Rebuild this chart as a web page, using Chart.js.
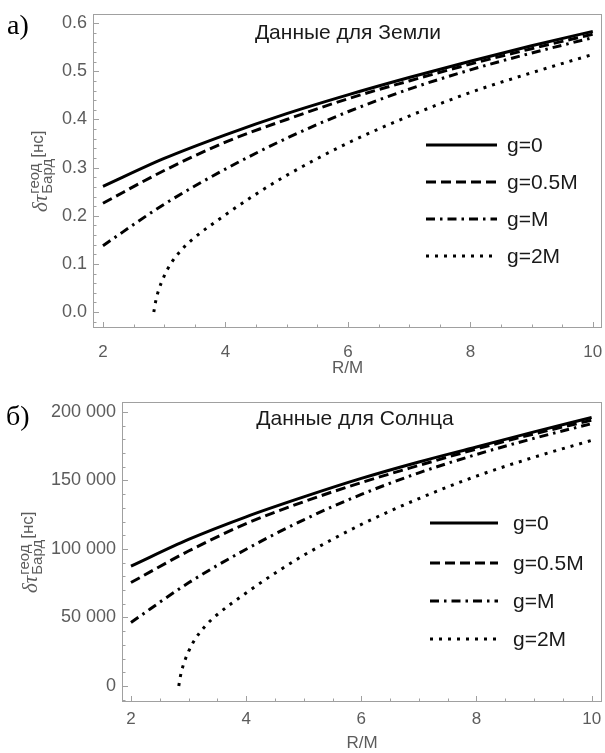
<!DOCTYPE html>
<html>
<head>
<meta charset="utf-8">
<script src="https://cdn.jsdelivr.net/npm/chart.js@4"></script>
<style>
  html, body { margin: 0; padding: 0; background: #fff; }
  #wrap { position: relative; width: 605px; height: 753px; }
  .panel { position: absolute; left: 0; width: 605px; }
</style>
</head>
<body>
<div id="wrap">
  <div class="panel" style="top:0;height:380px"><canvas id="earthChart"></canvas></div>
  <div class="panel" style="top:380px;height:373px"><canvas id="sunChart"></canvas></div>
</div>
<script>
const rValues = [2, 3, 4, 5, 6, 7, 8, 9, 10];
const rValues2M = [2.83, 2.86, 2.9, 3.0, 3.12, 3.28, 3.47, 4, 4.5, 5, 6, 7, 8, 9, 10];

// Earth, ns
const earthG0 = [0.261, 0.319, 0.368, 0.412, 0.451, 0.487, 0.521, 0.553, 0.583];
const earthG05 = [0.226, 0.294, 0.353, 0.400, 0.443, 0.480, 0.515, 0.547, 0.577];
const earthG1 = [0.138, 0.224, 0.297, 0.361, 0.416, 0.463, 0.503, 0.538, 0.570];
const earthG2 = [0, 0.022, 0.042, 0.075, 0.103, 0.129, 0.152, 0.202, 0.245, 0.284, 0.351, 0.407, 0.456, 0.497, 0.535];

// Sun, ns
const sunG0 = [87500, 107000, 123500, 138000, 151500, 163500, 174500, 185500, 196000];
const sunG05 = [75500, 98500, 118500, 134500, 148500, 161000, 173000, 184000, 194000];
const sunG1 = [46400, 75300, 99800, 121300, 139800, 155600, 169000, 180800, 191500];
const sunG2 = [0, 7400, 14100, 25200, 34600, 43300, 51100, 67900, 82300, 95400, 117900, 136800, 153200, 167000, 179300];

const seriesLabels = ["g=0", "g=0.5M", "g=M", "g=2M"];
const xTicks = [2, 4, 6, 8, 10];
const earthYTicks = [0, 0.1, 0.2, 0.3, 0.4, 0.5, 0.6];
const sunYTicks = [0, 50000, 100000, 150000, 200000];

// line styles: solid, dashed, dash-dot, dotted
const dashes = [[], [10, 5], [9, 5, 2.5, 5], [3, 6]];

const grey = "#5c5c5c";

function pts(xs, ys) {
  return xs.map((x, i) => ({ x: x, y: ys[i] }));
}

function fmtSun(v) {
  return String(v).replace(/\B(?=(\d{3})+(?!\d))/g, "\u00a0");
}

// frame, inward ticks, panel letter, inner title, legend and y title
const decor = {
  id: "decor",
  afterDraw(chart, args, o) {
    const ctx = chart.ctx;
    const a = chart.chartArea;
    const x = chart.scales.x;
    const y = chart.scales.y;
    ctx.save();

    ctx.strokeStyle = "#a0a0a0";
    ctx.lineWidth = 1;
    ctx.strokeRect(a.left + 0.5, a.top + 0.5, a.right - a.left - 1, a.bottom - a.top - 1);

    ctx.beginPath();
    const ys = o.yStep / 5;
    for (let k = Math.ceil(y.min / ys); k * ys <= y.max; k++) {
      const py = Math.round(y.getPixelForValue(k * ys)) + 0.5;
      const len = k % 5 === 0 ? 6 : 3.5;
      ctx.moveTo(a.left, py);
      ctx.lineTo(a.left + len, py);
    }
    const xs = 0.5;
    for (let k = Math.ceil(x.min / xs); k * xs <= x.max; k++) {
      const px = Math.round(x.getPixelForValue(k * xs)) + 0.5;
      const len = k % 4 === 0 ? 6 : 3.5;
      ctx.moveTo(px, a.bottom);
      ctx.lineTo(px, a.bottom - len);
    }
    ctx.stroke();

    // panel letter
    ctx.fillStyle = "#000";
    ctx.font = '28px "Liberation Serif"';
    ctx.textAlign = "left";
    ctx.textBaseline = "alphabetic";
    ctx.fillText(o.letter, o.letterX, o.letterY);

    // inner title
    ctx.fillStyle = "#1a1a1a";
    ctx.font = '21px "Liberation Sans"';
    ctx.textAlign = "center";
    ctx.textBaseline = "middle";
    ctx.fillText(o.title, o.titleX, o.titleY);

    // legend
    ctx.textAlign = "left";
    ctx.font = '21px "Liberation Sans"';
    chart.data.datasets.forEach((ds, i) => {
      const ry = o.legendRows[i];
      ctx.save();
      ctx.strokeStyle = "#000";
      ctx.lineWidth = ds.borderWidth;
      ctx.setLineDash(ds.borderDash);
      ctx.beginPath();
      ctx.moveTo(o.legendX1, ry);
      ctx.lineTo(o.legendX2, ry);
      ctx.stroke();
      ctx.restore();
      ctx.fillText(ds.label, o.legendTextX, ry + 1);
    });

    // y title, rotated
    ctx.translate(o.yTitleX, o.yTitleY);
    ctx.rotate(-Math.PI / 2);
    ctx.fillStyle = grey;
    ctx.textBaseline = "alphabetic";
    ctx.font = 'italic 21px "Liberation Serif"';
    ctx.fillText("δτ", 0, 0);
    const w = ctx.measureText("δτ").width;
    ctx.font = '15px "Liberation Sans"';
    ctx.fillText("геод", w + 1, -8);
    const w1 = ctx.measureText("геод").width;
    ctx.fillText("Бард", w + 1, 5);
    const w2 = ctx.measureText("Бард").width;
    ctx.font = '17px "Liberation Sans"';
    ctx.fillText("[нс]", w + 2 + Math.max(w1, w2), -4);

    ctx.restore();
  }
};

function makePanel(id, p) {
  const ctx = document.getElementById(id).getContext("2d");
  return new Chart(ctx, {
    type: "line",
    data: {
      datasets: p.series.map((s, i) => ({
        label: seriesLabels[i],
        data: pts(s.xs, s.ys),
        borderColor: "#000",
        borderWidth: 3,
        borderDash: dashes[i],
        borderCapStyle: "butt",
        pointRadius: 0,
        fill: false,
        cubicInterpolationMode: "monotone"
      }))
    },
    options: {
      animation: false,
      responsive: true,
      maintainAspectRatio: false,
      layout: { padding: { top: p.padTop, right: 3, left: 0, bottom: 0 } },
      scales: {
        x: {
          type: "linear",
          min: p.xMin,
          max: p.xMax,
          afterBuildTicks: (s) => { s.ticks = xTicks.map((v) => ({ value: v })); },
          afterFit: (s) => { s.height = p.xHeight; s.paddingLeft = 0; s.paddingRight = 0; },
          grid: { display: false, drawTicks: false },
          border: { display: false },
          ticks: {
            color: grey,
            font: { family: "Liberation Sans", size: 17 },
            padding: p.xTickPad,
            maxRotation: 0
          },
          title: {
            display: true,
            text: "R/M",
            color: grey,
            font: { family: "Liberation Sans", size: 17 },
            padding: { top: 0, bottom: p.xTitlePad }
          }
        },
        y: {
          type: "linear",
          min: p.yMin,
          max: p.yMax,
          afterBuildTicks: (s) => { s.ticks = p.yTicks.map((v) => ({ value: v })); },
          afterFit: (s) => { s.width = p.yWidth; s.paddingTop = 0; s.paddingBottom = 0; },
          grid: { display: false, drawTicks: false },
          border: { display: false },
          ticks: {
            color: grey,
            font: { family: "Liberation Sans", size: 18 },
            padding: 6,
            callback: p.fmt
          }
        }
      },
      plugins: {
        legend: { display: false },
        tooltip: { enabled: false },
        decor: p.decor
      }
    },
    plugins: [decor]
  });
}

makePanel("earthChart", {
  series: [
    { xs: rValues, ys: earthG0 },
    { xs: rValues, ys: earthG05 },
    { xs: rValues, ys: earthG1 },
    { xs: rValues2M, ys: earthG2 }
  ],
  padTop: 14,
  xMin: 1.837, xMax: 10.15,
  yMin: -0.033, yMax: 0.619,
  yTicks: earthYTicks,
  fmt: (v) => v.toFixed(1),
  yWidth: 93, xHeight: 52,
  xTickPad: 14, xTitlePad: 1,
  decor: {
    yStep: 0.1,
    letter: "а)", letterX: 7, letterY: 34,
    title: "Данные для Земли", titleX: 348, titleY: 33,
    legendX1: 426, legendX2: 497, legendTextX: 507,
    legendRows: [145, 182, 219, 256],
    yTitleX: 47, yTitleY: 212
  }
});

makePanel("sunChart", {
  series: [
    { xs: rValues, ys: sunG0 },
    { xs: rValues, ys: sunG05 },
    { xs: rValues, ys: sunG1 },
    { xs: rValues2M, ys: sunG2 }
  ],
  padTop: 22,
  xMin: 1.844, xMax: 10.18,
  yMin: -11700, yMax: 207300,
  yTicks: sunYTicks,
  fmt: (v) => fmtSun(v),
  yWidth: 122, xHeight: 51,
  xTickPad: 7, xTitlePad: -1,
  decor: {
    yStep: 50000,
    letter: "б)", letterX: 6, letterY: 45,
    title: "Данные для Солнца", titleX: 355, titleY: 39,
    legendX1: 430, legendX2: 498, legendTextX: 513,
    legendRows: [143, 183, 221, 259],
    yTitleX: 37, yTitleY: 213
  }
});
</script>
</body>
</html>
